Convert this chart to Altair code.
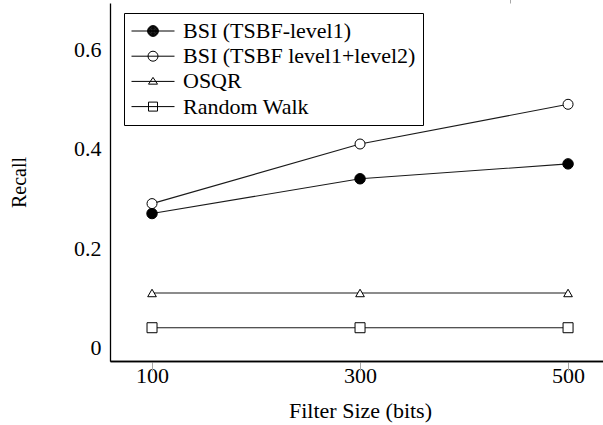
import altair as alt
import pandas as pd

# ---- data ----
filter_sizes = [100, 300, 500]
series_names = ["BSI (TSBF-level1)", "BSI (TSBF level1+level2)", "OSQR", "Random Walk"]
recall_level1 = [0.27, 0.34, 0.37]
recall_level12 = [0.29, 0.41, 0.49]
recall_osqr = [0.11, 0.11, 0.11]
recall_randomwalk = [0.04, 0.04, 0.04]
x_ticks = [100, 300, 500]
y_ticks = [0, 0.2, 0.4, 0.6]

all_series = [recall_level1, recall_level12, recall_osqr, recall_randomwalk]
rows = []
for name, vals in zip(series_names, all_series):
    for s, v in zip(filter_sizes, vals):
        rows.append({"size": s, "recall": v, "series": name})
df = pd.DataFrame(rows)

FONT = "Liberation Serif"
FS = 22
W, H = 493, 358
XDOM = [59.6, 533.6]
YDOM = [-0.027, 0.694]
TICK = "#a8a8a8"

xs = alt.Scale(domain=XDOM, nice=False, zero=False)
ys = alt.Scale(domain=YDOM, nice=False, zero=False)

base = alt.Chart(df)

# lines + main axes (labels, left/bottom frame)
lines = base.mark_line(color="#1a1a1a", strokeWidth=1.1).encode(
    x=alt.X("size:Q", scale=xs, axis=alt.Axis(
        orient="bottom", values=x_ticks, format="d", ticks=False, tickSize=0, grid=False,
        domain=True, domainColor="black", domainWidth=1.3,
        labelFont=FONT, labelFontSize=FS, labelColor="black", labelPadding=4,
        title="Filter Size (bits)", titleFont=FONT, titleFontSize=FS, titleFontWeight="normal",
        titleColor="black", titleX=250, titleY=49, titleBaseline="middle", titleAlign="center")),
    y=alt.Y("recall:Q", scale=ys, axis=alt.Axis(
        orient="left", values=y_ticks, format="~g", ticks=False, tickSize=0, grid=False,
        domain=True, domainColor="black", domainWidth=1.3,
        labelFont=FONT, labelFontSize=FS, labelColor="black", labelPadding=9,
        title="Recall", titleFont=FONT, titleFontSize=20, titleFontWeight="normal",
        titleColor="black", titleX=-91, titleY=179, titleBaseline="middle", titleAlign="center",
        titleAngle=270)),
    detail="series:N",
)

# markers, one layer per series; the first carries inward ticks on bottom and right
marker_shapes = ["circle", "circle", "triangle-up", "square"]
marker_sizes = [110, 100, 75, 100]
marker_fills = ["black", "white", "white", "white"]
point_layers = []
for i, name in enumerate(series_names):
    if i == 0:
        xenc = alt.X("size:Q", scale=xs, axis=alt.Axis(
            orient="top", position=H, values=x_ticks, labels=False, domain=False, grid=False,
            ticks=True, tickSize=10, tickColor=TICK, tickWidth=1, title=None))
        yenc = alt.Y("recall:Q", scale=ys, axis=alt.Axis(
            orient="left", position=W, values=y_ticks, labels=False, domain=False, grid=False,
            ticks=True, tickSize=5, tickColor=TICK, tickWidth=1, title=None))
    else:
        xenc = alt.X("size:Q", scale=xs, axis=None)
        yenc = alt.Y("recall:Q", scale=ys, axis=None)
    point_layers.append(
        base.transform_filter(alt.datum.series == name).mark_point(
            shape=marker_shapes[i], size=marker_sizes[i], fill=marker_fills[i],
            filled=False, opacity=1, stroke="black", strokeWidth=1,
        ).encode(x=xenc, y=yenc)
    )


# legend symbols: line sample with the series marker on it
def ring(r):
    return "M{0},0A{0},{0},0,1,1,-{0},0A{0},{0},0,1,1,{0},0Z".format(r)


LINE = "M-4.3,0H4.3"
legend_paths = [
    LINE + "".join(ring(r) for r in [1.08, 0.98, 0.88, 0.78, 0.68, 0.58, 0.48, 0.38, 0.28, 0.18, 0.08]),
    LINE + ring(1.0),
    LINE + "M0,-0.8L0.9,0.55L-0.9,0.55Z",
    LINE + "M-0.9,-0.9H0.9V0.9H-0.9Z",
]

# legend-only layer (draws no marks) + inward ticks on top and left, top frame
legend_layer = base.transform_filter("false").mark_point(
    opacity=1, stroke="black", strokeWidth=1, size=100, filled=False).encode(
    x=alt.X("size:Q", scale=xs, axis=alt.Axis(
        orient="bottom", position=0, values=x_ticks, labels=False, grid=False,
        domain=True, domainColor="black", domainWidth=1.3,
        ticks=True, tickSize=10, tickColor=TICK, tickWidth=1, title=None)),
    y=alt.Y("recall:Q", scale=ys, axis=alt.Axis(
        orient="right", position=0, values=y_ticks, labels=False, domain=False, grid=False,
        ticks=True, tickSize=10, tickColor=TICK, tickWidth=1, title=None)),
    shape=alt.Shape("series:N", scale=alt.Scale(domain=series_names, range=legend_paths),
                    legend=alt.Legend(title=None)),
)

chart = alt.layer(lines, *point_layers, legend_layer).resolve_axis(
    x="independent", y="independent"
).properties(
    width=W, height=H,
    autosize=alt.AutoSizeParams(type="none"),
    padding={"left": 110, "top": 3, "right": 0, "bottom": 64},
).configure(font=FONT).configure_view(strokeWidth=0).configure_axis(
    labelFont=FONT, titleFont=FONT,
).configure_legend(
    orient="none", legendX=14, legendY=10, padding=7,
    strokeColor="black", fillColor="white", cornerRadius=0,
    labelFont=FONT, labelFontSize=FS, labelColor="black", labelLimit=500,
    symbolOffset=11, labelOffset=19, rowPadding=3.2, symbolSize=100,
    symbolStrokeWidth=1, symbolStrokeColor="black", symbolFillColor="white",
    symbolOpacity=1,
)

chart.save("out.html", embed_options={"renderer": "svg", "actions": False})
